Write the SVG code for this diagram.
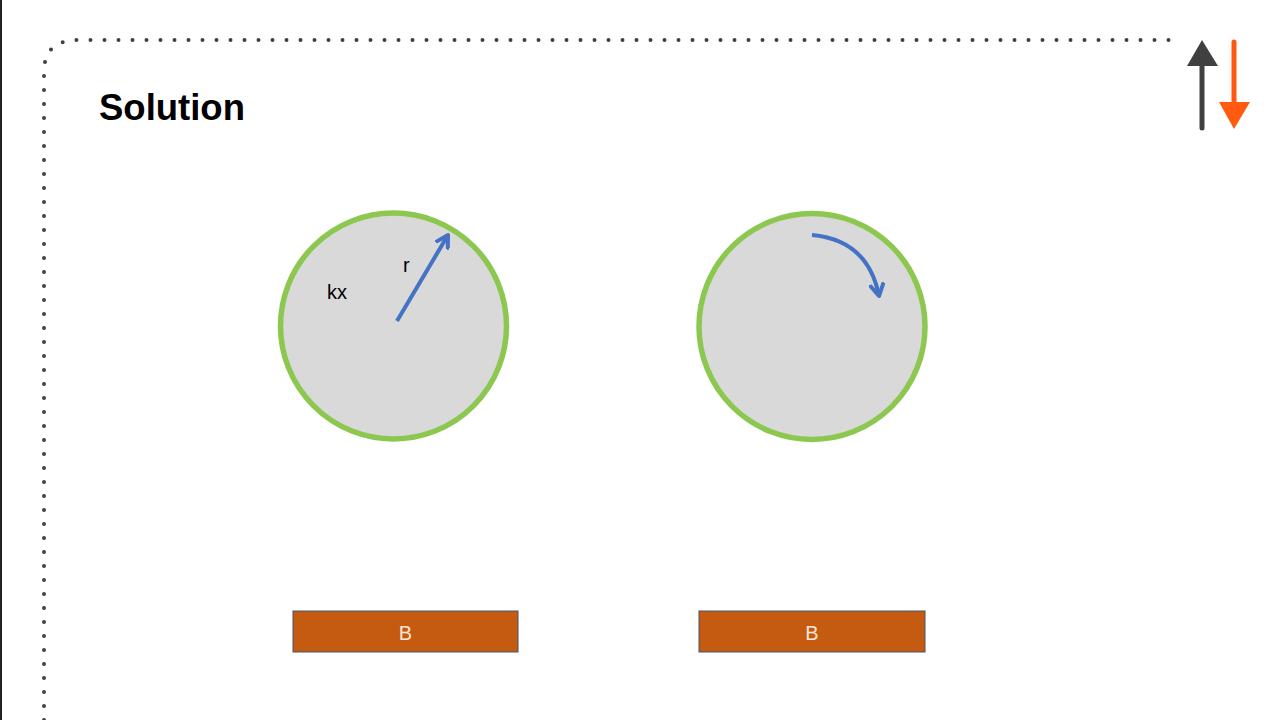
<svg xmlns="http://www.w3.org/2000/svg" width="1280" height="720" viewBox="0 0 1280 720">
<style>
.circ{fill:#D9D9D9;stroke:#8CC850;stroke-width:5.5}
.bar{fill:#C55A11;stroke:#44546A;stroke-width:1}
.lbl{font-family:"Liberation Sans",Arial,sans-serif;font-size:20px;fill:#000}
.blbl{font-family:"Liberation Sans",Arial,sans-serif;font-size:20px;fill:#FBE5D6;text-anchor:middle}
.blue{fill:none;stroke:#4472C4;stroke-width:4}
</style>
<defs>
<marker id="ah" viewBox="0 0 10 10" refX="8" refY="5" markerWidth="4" markerHeight="4" orient="auto" markerUnits="strokeWidth">
<path d="M1,1 L8,5 L1,9" fill="none" stroke="#4472C4" stroke-width="2.5" stroke-linecap="round" stroke-linejoin="round"/>
</marker>
</defs>
<rect x="0" y="0" width="1280" height="720" fill="#fff"/>
<line x1="1" y1="0" x2="1" y2="720" stroke="#222" stroke-width="2"/>
<path id="frame" d="M44,720 L44,72 Q44,40 78,40 L1180,40" fill="none" stroke="#404040" stroke-width="4" stroke-linecap="round" stroke-dasharray="0 14"/>
<text x="99" y="120" font-family="Liberation Sans,Arial,sans-serif" font-size="36.5" font-weight="bold" fill="#000">Solution</text>
<g id="updown">
<line x1="1202" y1="128" x2="1202" y2="62" stroke="#404040" stroke-width="5" stroke-linecap="round"/>
<polygon points="1202,40 1187,66 1218,66" fill="#404040"/>
<line x1="1234" y1="42" x2="1234" y2="104" stroke="#FF5A0F" stroke-width="5" stroke-linecap="round"/>
<polygon points="1234,129 1219,102 1250,102" fill="#FF5A0F"/>
</g>
<g id="circle1">
<circle class="circ" cx="393.5" cy="326" r="113"/>
<text class="lbl" x="327" y="299">kx</text>
<text class="lbl" x="403" y="272">r</text>
</g>
<g id="circle2">
<circle class="circ" cx="812" cy="326.5" r="113"/>
</g>
<g id="bar1">
<rect class="bar" x="293" y="611" width="225" height="41"/>
<text class="blbl" x="405.5" y="640">B</text>
</g>
<g id="bar2">
<rect class="bar" x="699" y="611" width="226" height="41"/>
<text class="blbl" x="812" y="640">B</text>
</g>
<g id="connectors">
<line class="blue" x1="397" y1="321" x2="448" y2="235" marker-end="url(#ah)"/>
<path class="blue" d="M812,235 Q868,240 879,296" marker-end="url(#ah)"/>
</g>
</svg>
